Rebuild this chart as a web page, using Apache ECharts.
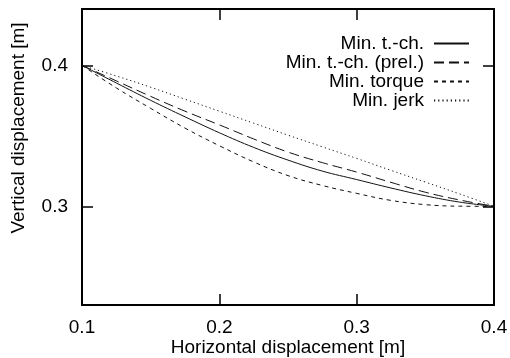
<!DOCTYPE html>
<html><head><meta charset="utf-8">
<script src="https://cdn.jsdelivr.net/npm/echarts@6/dist/echarts.min.js"></script>
<style>html,body{margin:0;padding:0;background:#fff}#c{width:510px;height:358px}</style>
</head><body><div id="c"></div>
<script>
const xValues   = [0.1, 0.125, 0.15, 0.175, 0.2, 0.225, 0.25, 0.275, 0.3, 0.325, 0.35, 0.375, 0.4];
const minTch    = [0.4, 0.3875, 0.3752, 0.3635, 0.3522, 0.3418, 0.3328, 0.3250, 0.3190, 0.3130, 0.3075, 0.3030, 0.3000];
const minTchPre = [0.4, 0.3890, 0.3780, 0.3675, 0.3578, 0.3478, 0.3385, 0.3310, 0.3243, 0.3170, 0.3100, 0.3045, 0.3000];
const minTorque = [0.4, 0.3840, 0.3695, 0.3555, 0.3430, 0.3315, 0.3218, 0.3148, 0.3092, 0.3042, 0.3012, 0.3001, 0.3000];
const minJerk   = [0.4, 0.3925, 0.3845, 0.3760, 0.3675, 0.3590, 0.3505, 0.3422, 0.3340, 0.3255, 0.3172, 0.3088, 0.3000];
const seriesNames = ['Min. t.-ch.', 'Min. t.-ch. (prel.)', 'Min. torque', 'Min. jerk'];
const xTicks = [0.1, 0.2, 0.3, 0.4];
const yTicks = [0.3, 0.4];
const xTitle = 'Horizontal displacement [m]';
const yTitle = 'Vertical displacement [m]';

const FONT = 'Liberation Sans';
const FS = 19;
const chart = echarts.init(document.getElementById('c'));
const dashes = ['solid', [10, 5], [4, 4], [1.2, 3]];
const allData = [minTch, minTchPre, minTorque, minJerk];

function axisCommon() {
  return {
    axisLine: { show: true, onZero: false, lineStyle: { color: '#000', width: 2 } },
    splitLine: { show: false }
  };
}

chart.setOption({
  animation: false,
  backgroundColor: '#fff',
  grid: { left: 82, right: 16, top: 9, bottom: 53, containLabel: false, outerBoundsMode: 'none' },
  legend: {
    orient: 'vertical', right: 35, top: 29, align: 'right',
    itemWidth: 35, itemHeight: 14, itemGap: 0,
    itemStyle: { opacity: 0 },
    textStyle: { fontFamily: FONT, fontSize: FS, color: '#000', lineHeight: 19, padding: [0, 5, 0, 0] },
    data: seriesNames
  },
  xAxis: [
    Object.assign(axisCommon(), {
      type: 'value', min: 0.1, max: 0.4, interval: 0.1, position: 'bottom',
      axisTick: { show: true, inside: true, length: 11, customValues: xTicks, lineStyle: { color: '#000', width: 1.5 } },
      axisLabel: { margin: 13, fontFamily: FONT, fontSize: FS, color: '#000', customValues: xTicks, formatter: v => v.toFixed(1) },
      name: xTitle, nameLocation: 'middle', nameGap: 33, nameMoveOverlap: false,
      nameTextStyle: { fontFamily: FONT, fontSize: FS, color: '#000' }
    }),
    Object.assign(axisCommon(), {
      type: 'value', min: 0.1, max: 0.4, interval: 0.1, position: 'top',
      axisTick: { show: true, inside: true, length: 11, customValues: xTicks, lineStyle: { color: '#000', width: 1.5 } },
      axisLabel: { show: false }
    })
  ],
  yAxis: [
    Object.assign(axisCommon(), {
      type: 'value', min: 0.23, max: 0.44, position: 'left',
      axisTick: { show: true, inside: true, length: 11, customValues: yTicks, lineStyle: { color: '#000', width: 1.5 } },
      axisLabel: { margin: 14, fontFamily: FONT, fontSize: FS, color: '#000', customValues: yTicks, formatter: v => v.toFixed(1) }
    }),
    Object.assign(axisCommon(), {
      type: 'value', min: 0.23, max: 0.44, position: 'right',
      axisTick: { show: true, inside: true, length: 11, customValues: yTicks, lineStyle: { color: '#000', width: 1.5 } },
      axisLabel: { show: false }
    })
  ],
  graphic: [{
    type: 'text', x: 19, y: 128, rotation: Math.PI / 2,
    style: { text: yTitle, fontFamily: FONT, fontSize: FS, fill: '#000', align: 'center', verticalAlign: 'middle' }
  }],
  series: seriesNames.map((name, i) => ({
    name, type: 'line', xAxisIndex: 0, yAxisIndex: 0,
    data: xValues.map((x, j) => [x, allData[i][j]]),
    smooth: 0.4, showSymbol: false, symbol: 'none',
    lineStyle: { color: '#111', width: 1, type: dashes[i] },
    itemStyle: { color: '#111' },
    z: 3
  }))
});
</script>
</body></html>
